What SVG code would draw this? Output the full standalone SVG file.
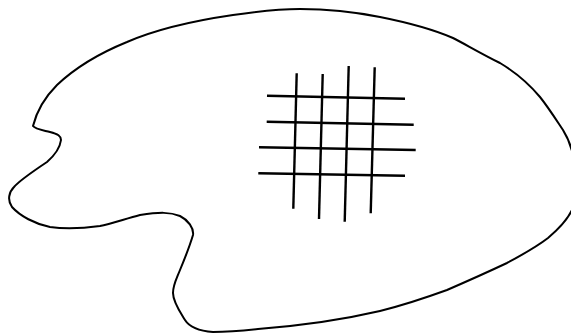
<svg xmlns="http://www.w3.org/2000/svg" width="571" height="334" viewBox="0 0 571 334">
<style>
.outline{fill:none;stroke:#000;stroke-width:2;stroke-linejoin:round;stroke-linecap:round}
.grid line{stroke:#000;stroke-width:2.4;stroke-linecap:butt}
</style>
<rect width="571" height="334" fill="#fff"/>
<g id="region">
<path class="outline" d="M 33 126 C 37 110, 45 97, 57 85 C 75 68, 95 55, 127 42 C 150 32, 185 22, 233 15 C 260 11, 285 9, 300 9 C 330 9, 360 13, 380 17 C 405 22, 430 28, 453 38 C 465 44, 478 52, 500 63 C 515 72, 530 85, 540 97 C 548 107, 555 118, 563 130 C 568 138, 572 148, 574 160 L 574 205 C 570 218, 560 228, 548 238 C 535 248, 520 256, 507 263 C 490 271, 470 280, 447 290 C 425 298, 400 306, 380 311 C 350 318, 310 325, 258 329 C 240 331, 225 332, 213 332 C 200 331, 190 328, 185 320 C 180 312, 173 302, 173 293 C 173 285, 176 280, 180 270 C 185 258, 190 245, 193 235 C 194 228, 188 220, 180 216 C 170 212, 160 212, 140 215 C 125 219, 110 224, 100 226 C 85 228, 65 229, 50 227 C 35 224, 20 216, 12 207 C 7 200, 9 192, 14 187 C 20 180, 35 170, 47 162 C 55 155, 60 148, 61 140 C 61 136, 58 134, 50 132 C 42 130, 35 129, 33 126 Z"/>
</g>
<g id="grid" class="grid">
<line x1="267" y1="95.7" x2="405" y2="98.7"/>
<line x1="266.7" y1="121.7" x2="413.7" y2="124.7"/>
<line x1="259" y1="147.3" x2="415.7" y2="150"/>
<line x1="258.3" y1="173.3" x2="405" y2="175.7"/>
<line x1="296.7" y1="73.3" x2="293.3" y2="208.7"/>
<line x1="322.7" y1="74" x2="319" y2="219"/>
<line x1="348.7" y1="66" x2="344.7" y2="221.7"/>
<line x1="374.7" y1="67.3" x2="370.7" y2="213.3"/>
</g>
</svg>
